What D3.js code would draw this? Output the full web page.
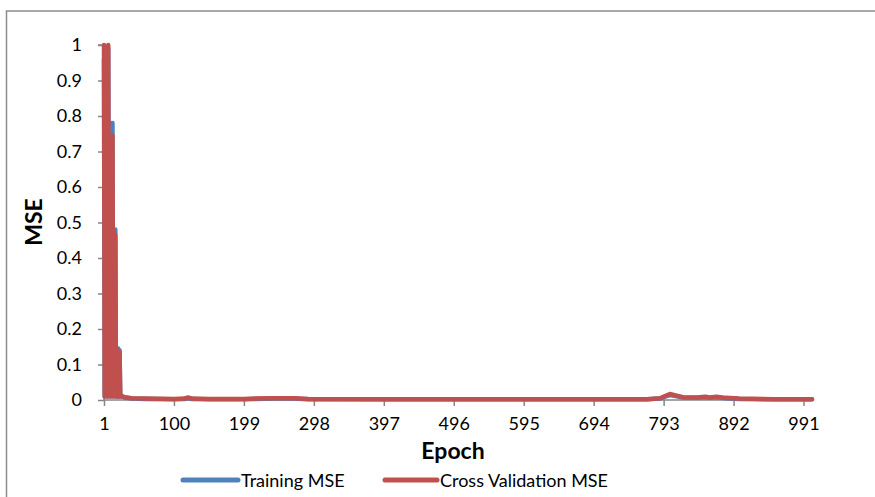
<!DOCTYPE html>
<html>
<head>
<meta charset="utf-8">
<script src="https://cdn.jsdelivr.net/npm/d3@7"></script>
<style>
  html, body { margin: 0; padding: 0; background: #fff; }
  svg { display: block; font-family: Lato, "Open Sans", sans-serif; }
</style>
</head>
<body>
<svg id="chart" width="875" height="497"></svg>
<script>
// ---- data ----
// early epochs 1..25 (oscillating values)
const earlyEpochs = [1,2,3,4,5,6,7,8,9,10,11,12,13,14,15,16,17,18,19,20,21,22,23,24,25];
const trainEarly = [0.96,0.01,0.97,0.02,0.98,0.01,0.99,0.02,0.78,0.01,0.78,0.02,0.78,0.01,0.48,0.02,0.48,0.01,0.145,0.01,0.145,0.01,0.14,0.01,0.011];
const cvEarly    = [1.0,0.01,0.99,0.02,0.99,0.01,1.0,0.02,0.745,0.01,0.74,0.02,0.745,0.01,0.47,0.02,0.465,0.01,0.14,0.01,0.14,0.01,0.135,0.01,0.012];
// later epochs (sampled)
const lateEpochs = [30,40,60,100,115,120,125,150,200,215,240,270,290,400,600,770,788,796,802,810,820,840,852,858,868,880,900,950,1003];
const trainLate  = [0.007,0.004,0.003,0.002,0.003,0.005,0.003,0.002,0.002,0.003,0.004,0.004,0.002,0.002,0.002,0.002,0.004,0.010,0.014,0.011,0.007,0.006,0.008,0.006,0.008,0.005,0.003,0.002,0.002];
const cvLate     = [0.008,0.005,0.004,0.003,0.004,0.007,0.004,0.003,0.003,0.004,0.005,0.005,0.003,0.002,0.002,0.002,0.005,0.012,0.017,0.013,0.008,0.007,0.009,0.007,0.009,0.006,0.004,0.002,0.002];
const xTickLabels = [1,100,199,298,397,496,595,694,793,892,991];
const yTickLabels = [0,0.1,0.2,0.3,0.4,0.5,0.6,0.7,0.8,0.9,1];
const seriesNames = ["Training MSE", "Cross Validation MSE"];
const seriesColors = ["#4f81bd", "#c0504d"];

const epochs = earlyEpochs.concat(lateEpochs);
const series = [trainEarly.concat(trainLate), cvEarly.concat(cvLate)];

// ---- layout ----
const svg = d3.select("#chart");
const pLeft = 104, pRight = 812, pTop = 45, pBottom = 400;
const axisColor = "#868686";

// outer chart border
svg.append("rect").attr("x", 6.5).attr("y", 11).attr("width", 880).attr("height", 500)
  .attr("fill", "none").attr("stroke", "#8c8c8c").attr("stroke-width", 1.5);

const x = d3.scaleLinear().domain([1, 1003]).range([pLeft, pRight]);
const y = d3.scaleLinear().domain([0, 1]).range([pBottom, pTop]);

// y axis
const yAxis = d3.axisLeft(y).tickValues(yTickLabels).tickSize(6).tickPadding(16)
  .tickFormat(d => String(+d.toFixed(1)));
const gy = svg.append("g").attr("transform", `translate(${pLeft},0)`).call(yAxis);
gy.select(".domain").attr("stroke", axisColor).attr("stroke-width", 1.5).attr("d", `M-6,${pTop}H0V${pBottom}`);
gy.selectAll(".tick line").attr("stroke", axisColor).attr("stroke-width", 1.5);
gy.selectAll(".tick text").attr("fill", "#000").style("font-size", "18px").style("font-family", "Lato");

// x axis
const xAxis = d3.axisBottom(x).tickValues(xTickLabels).tickSize(6).tickPadding(11).tickFormat(d3.format("d"));
const gx = svg.append("g").attr("transform", `translate(0,${pBottom})`).call(xAxis);
gx.select(".domain").attr("stroke", axisColor).attr("stroke-width", 1.5).attr("d", `M${pLeft},0H${pRight}`);
gx.selectAll(".tick line").attr("stroke", axisColor).attr("stroke-width", 1.5);
gx.selectAll(".tick text").attr("fill", "#000").style("font-size", "18px").style("font-family", "Lato");

// lines
const line = d3.line().x((d, i) => x(epochs[i])).y(d => y(d));
series.forEach((vals, k) => {
  svg.append("path").datum(vals)
    .attr("d", line)
    .attr("fill", "none")
    .attr("stroke", seriesColors[k])
    .attr("stroke-width", 4.5)
    .attr("stroke-linejoin", "round")
    .attr("stroke-linecap", "round");
});

// axis titles
svg.append("text").attr("x", 453).attr("y", 459).attr("text-anchor", "middle")
  .style("font-size", "23px").style("font-weight", "bold").text("Epoch");
svg.append("text").attr("transform", "translate(42,222) rotate(-90)").attr("text-anchor", "middle")
  .style("font-size", "23px").style("font-weight", "bold").text("MSE");

// legend
const legendItems = [{x: 183, w: 55}, {x: 385, w: 52}];
legendItems.forEach((it, k) => {
  svg.append("line").attr("x1", it.x).attr("x2", it.x + it.w).attr("y1", 480).attr("y2", 480)
    .attr("stroke", seriesColors[k]).attr("stroke-width", 5).attr("stroke-linecap", "round");
  svg.append("text").attr("x", it.x + it.w + 3).attr("y", 486.5)
    .style("font-size", "18px").text(seriesNames[k]);
});
</script>
</body>
</html>
